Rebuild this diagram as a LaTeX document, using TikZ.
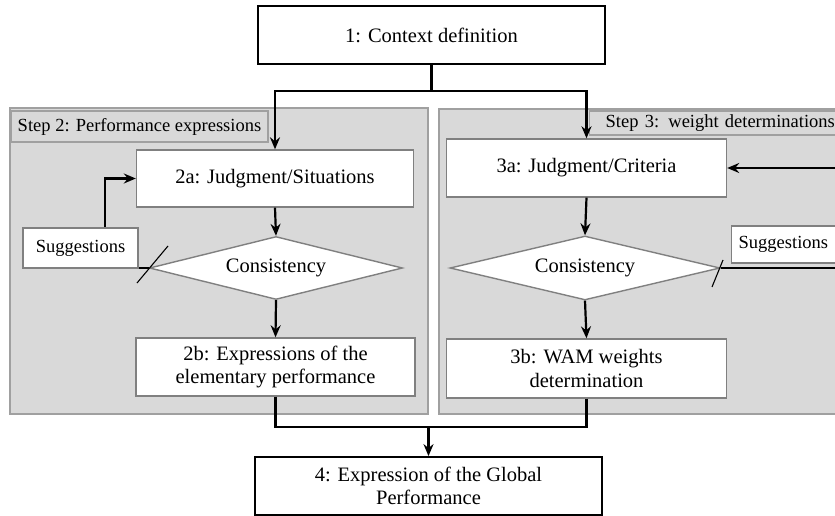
\documentclass[tikz,border=0pt]{standalone}
\usepackage{fontspec}
\setmainfont{Liberation Serif}
\usetikzlibrary{shapes.geometric,arrows.meta}
\definecolor{panelgray}{RGB}{217,217,217}
\definecolor{panelline}{RGB}{160,160,160}
\definecolor{boxline}{RGB}{128,128,128}
\tikzset{
  bigfont/.style={font=\fontsize{20.5}{23.5}\selectfont},
  smallfont/.style={font=\fontsize{18.5}{21}\selectfont},
  mainbox/.style={draw=black, line width=1.8pt, fill=white, inner sep=0pt, align=center, bigfont},
  innerbox/.style={draw=boxline, line width=1.4pt, fill=white, inner sep=0pt, align=center, bigfont},
  decision/.style={diamond, shape aspect=4, draw=boxline, line width=1.4pt, fill=white, inner sep=0pt, bigfont},
  sugbox/.style={draw=boxline, line width=1.4pt, fill=white, inner sep=0pt, smallfont},
  panel/.style={draw=panelline, line width=1.4pt, fill=panelgray},
  steplabel/.style={draw=panelline, line width=1.4pt, fill=panelgray, inner sep=0pt, smallfont},
  conn/.style={draw=black, line width=2.2pt},
  arr/.style={conn, -{Stealth[length=12pt,width=10pt,inset=4pt]}},
  slash/.style={draw=black, line width=1.1pt}
}
\begin{document}
\begin{tikzpicture}[x=1pt,y=-1pt]
\useasboundingbox (0,0) rectangle (835,516);
\clip (0,0) rectangle (835,516);
% panels
\path[panel] (10,108) rectangle (428,414);
\path[panel] (439,109) rectangle (845,414);
\node[steplabel, minimum width=257pt, minimum height=31pt] (s2) at (139.5,126.5) {Step 2: Performance expressions};
\node[steplabel, text width=256pt, minimum height=24pt, align=left, anchor=west] (s3) at (589,123) {\hspace*{16pt}Step 3: weight determinations};
% nodes
\node[mainbox, minimum width=347pt, minimum height=58pt] (b1) at (431.5,35) {1: Context definition};
\node[innerbox, minimum width=277pt, minimum height=57pt] (b2a) at (275,178.5) {2a: Judgment/Situations};
\node[innerbox, minimum width=280pt, minimum height=58pt] (b3a) at (586.5,168) {3a: Judgment/Criteria};
\node[decision, minimum width=253pt, minimum height=63pt] (d2) at (276,268) {Consistency};
\node[decision, minimum width=270pt, minimum height=64pt] (d3) at (585,268) {Consistency};
\node[innerbox, minimum width=279pt, minimum height=58pt] (b2b) at (275.5,367) {2b: Expressions of the\\elementary performance};
\node[innerbox, minimum width=280pt, minimum height=59pt] (b3b) at (586.5,368.5) {3b: WAM weights\\determination};
\node[mainbox, minimum width=347pt, minimum height=58pt] (b4) at (428.5,486) {4: Expression of the Global\\Performance};
% junctions
\coordinate (j1) at (431.5,91);
\coordinate (j2) at (428.5,427);
\coordinate (fl) at (105,268);
\coordinate (fr) at (850,268);
% top fan-out
\draw[conn] (b1.south) -- (j1);
\draw[arr] (j1) -| (b2a.north);
\draw[arr] (j1) -| (b3a.north);
% left column
\draw[arr] (b2a.south) -- (d2.north);
\draw[arr] (d2.south) -- (b2b.north);
% right column
\draw[arr] (b3a.south) -- (d3.north);
\draw[arr] (d3.south) -- (b3b.north);
% feedback loops
\draw[arr] (d2.west) -- (fl) |- (b2a.west);
\draw[arr] (d3.east) -- (fr) |- (b3a.east);
% suggestion boxes
\node[sugbox, minimum width=115pt, minimum height=40pt] (sl) at (80.5,248) {Suggestions};
\node[sugbox, text width=115pt, minimum height=37pt, align=left, anchor=west] (sr) at (731,244.5) {\hspace*{7pt}Suggestions};
% slash marks
\draw[slash] (137,283) -- (168,246);
\draw[slash] (712,287) -- (723,260);
% bottom merge
\draw[conn] (b2b.south) |- (j2);
\draw[conn] (b3b.south) |- (j2);
\draw[arr] (j2) -- (b4.north);
\end{tikzpicture}
\end{document}
